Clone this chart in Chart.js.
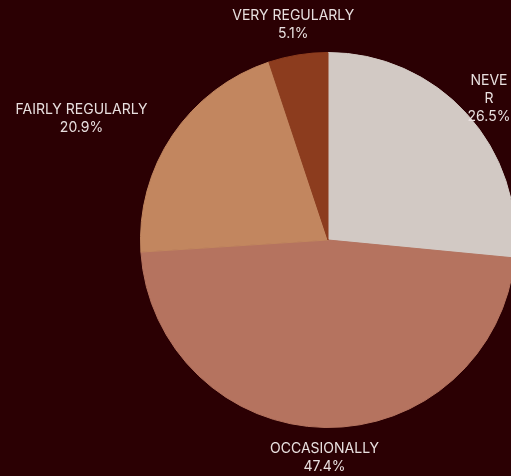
<!DOCTYPE html>
<html>
<head>
<meta charset="utf-8">
<script src="https://cdn.jsdelivr.net/npm/chart.js@4.4.1/dist/chart.umd.min.js"></script>
<style>
  html, body { margin: 0; padding: 0; background: #2b0003; overflow: hidden; }
  #wrap { width: 511px; height: 476px; overflow: hidden; }
</style>
</head>
<body>
<div id="wrap"><canvas id="c" width="520" height="476"></canvas></div>
<script>
const categories = ["NEVER", "OCCASIONALLY", "FAIRLY REGULARLY", "VERY REGULARLY"];
const shares = [26.5, 47.4, 20.9, 5.1];
const sliceColors = ["#d2c9c4", "#b5735f", "#c2865f", "#8c3c1e"];

// draws "CATEGORY\nxx.x%" outside each slice
const outerLabels = {
  id: "outerLabels",
  afterDatasetsDraw(chart) {
    const ctx = chart.ctx;
    const meta = chart.getDatasetMeta(0);
    const visibleRight = 511;
    ctx.save();
    ctx.font = "14px Inter, 'Noto Sans', sans-serif";
    ctx.fillStyle = "#e8dfdf";
    ctx.textBaseline = "middle";
    ctx.textAlign = "center";
    meta.data.forEach((arc, i) => {
      const mid = (arc.startAngle + arc.endAngle) / 2;
      const r = arc.outerRadius + 30;
      let x = arc.x + Math.cos(mid) * r;
      const y = arc.y + Math.sin(mid) * r;
      let lines = [categories[i], shares[i].toFixed(1) + "%"];
      const w = ctx.measureText(categories[i]).width;
      if (Math.cos(mid) < -0.5) {
        // left side: keep text clear of the pie
        x = x - w / 2;
      }
      // wrap long words that run off the right edge
      const room = (visibleRight - x) * 2;
      if (w > room) {
        const out = [];
        let cur = "";
        for (const ch of categories[i]) {
          if (ctx.measureText(cur + ch).width > room && cur) { out.push(cur); cur = ch; }
          else cur += ch;
        }
        out.push(cur);
        lines = out.concat([lines[1]]);
      }
      const lh = 18;
      const y0 = y - (lines.length - 1) * lh / 2 + (lines.length > 2 ? 5 : 0);
      lines.forEach((t, k) => ctx.fillText(t, x, y0 + k * lh));
    });
    ctx.restore();
  }
};

new Chart(document.getElementById("c"), {
  type: "pie",
  data: {
    labels: categories,
    datasets: [{
      data: shares,
      backgroundColor: sliceColors,
      borderColor: sliceColors,
      borderWidth: 1,
    }],
  },
  options: {
    responsive: false,
    animation: false,
    layout: { padding: { top: 52, bottom: 48, left: 140, right: 4 } },
    plugins: {
      legend: { display: false },
      tooltip: { enabled: false },
    },
  },
  plugins: [outerLabels],
});
</script>
</body>
</html>
